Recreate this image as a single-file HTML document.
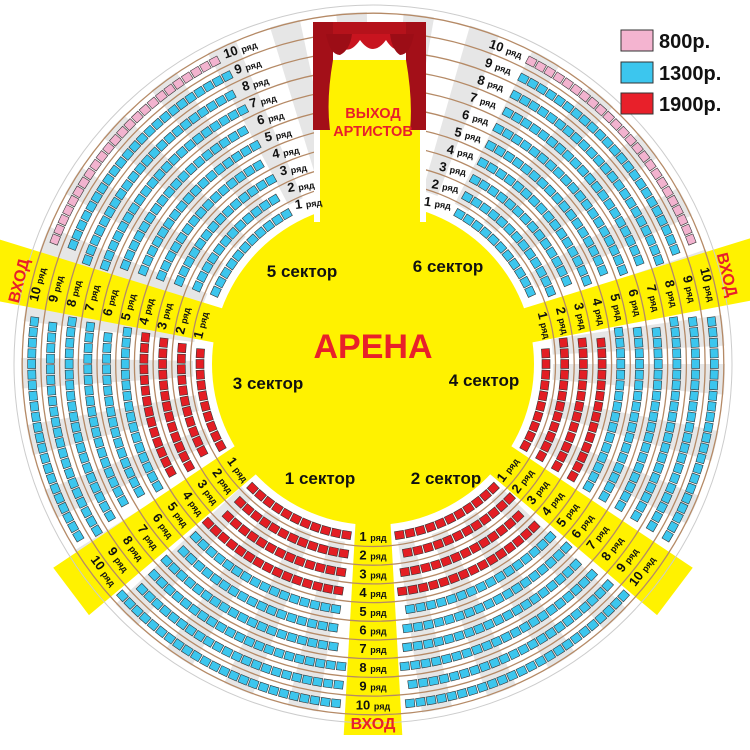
<!DOCTYPE html>
<html><head><meta charset="utf-8"><style>
html,body{margin:0;padding:0;background:#fff;}
svg{display:block;font-family:"Liberation Sans",sans-serif;}
.lb{font-weight:bold;fill:#111;}
</style></head><body>
<svg id="s" width="750" height="750" viewBox="0 0 750 750" xmlns="http://www.w3.org/2000/svg">
<rect width="750" height="750" fill="#fff"/>
<g id="wedges"></g>
<g id="aisles" fill="#fff200"></g>
<g id="rings" fill="none" stroke="#b58a66" stroke-width="1.3"></g>
<circle cx="373" cy="364" r="359" fill="none" stroke="#ccc" stroke-width="1"/>
<circle cx="373" cy="364" r="161" fill="#fff200"/>
<!-- stage -->
<rect x="314" y="22" width="112" height="200" fill="#fff"/>
<rect x="320" y="60" width="100" height="175" fill="#fff200"/>
<rect x="313" y="22" width="113" height="14" fill="#b5121b"/>
<path d="M313 22 L333 22 L333 60 Q326 100 330 130 L313 130 Z" fill="#a30f18"/>
<path d="M426 22 L406 22 L406 60 Q413 100 410 130 L426 130 Z" fill="#a30f18"/>
<path d="M330 34 Q345 62 360 40 Q373 58 386 40 Q400 62 412 34 Z" fill="#c8141f"/>
<path d="M326 34 Q330 55 340 55 Q350 50 352 34 Z M390 34 Q392 50 400 55 Q410 55 414 34Z" fill="#9c0d16"/>
<text x="373" y="118" text-anchor="middle" font-size="14.5" font-weight="bold" fill="#e8202a">ВЫХОД</text>
<text x="373" y="136" text-anchor="middle" font-size="14.5" font-weight="bold" fill="#e8202a">АРТИСТОВ</text>
<g id="seats" stroke="#333" stroke-width="0.6"></g>
<g id="labels"></g>
<text x="373" y="358" text-anchor="middle" font-size="34" font-weight="bold" fill="#e8202a">АРЕНА</text>
<g font-size="17" font-weight="bold" fill="#111" text-anchor="middle">
<text x="302" y="277">5 сектор</text>
<text x="448" y="272">6 сектор</text>
<text x="268" y="389">3 сектор</text>
<text x="484" y="386">4 сектор</text>
<text x="320" y="484">1 сектор</text>
<text x="446" y="484">2 сектор</text>
</g>
<g font-size="16" font-weight="bold" fill="#e8202a" text-anchor="middle">
<text x="373" y="729">ВХОД</text>
<text transform="translate(24,282) rotate(-76)">ВХОД</text>
<text transform="translate(722,276) rotate(76)">ВХОД</text>
</g>
<!-- legend -->
<rect x="621" y="30" width="32" height="21" fill="#f4b4d0" stroke="#333" stroke-width="1"/>
<rect x="621" y="62" width="32" height="21" fill="#3cc6ee" stroke="#333" stroke-width="1"/>
<rect x="621" y="93" width="32" height="21" fill="#e8202a" stroke="#333" stroke-width="1"/>
<g font-size="20" font-weight="bold" fill="#111">
<text x="659" y="48">800р.</text>
<text x="659" y="80">1300р.</text>
<text x="659" y="111">1900р.</text>
</g>
</svg>
<script>
(function(){
var NS="http://www.w3.org/2000/svg",cx=373,cy=364;
function el(p,t,a,txt){var e=document.createElementNS(NS,t);for(var k in a)e.setAttribute(k,a[k]);if(txt!=null)e.textContent=txt;document.getElementById(p).appendChild(e);return e;}
var R=[];for(var k=1;k<=10;k++)R.push(173+18.7*(k-1));
// gray wedges
for(var a=0;a<360;a+=11){var a1=a*Math.PI/180,a2=(a+5)*Math.PI/180,r1=180,r2=352;
el("wedges","path",{d:"M"+(cx+r1*Math.cos(a1))+" "+(cy+r1*Math.sin(a1))+" L"+(cx+r2*Math.cos(a1))+" "+(cy+r2*Math.sin(a1))+" A"+r2+" "+r2+" 0 0 1 "+(cx+r2*Math.cos(a2))+" "+(cy+r2*Math.sin(a2))+" L"+(cx+r1*Math.cos(a2))+" "+(cy+r1*Math.sin(a2))+" A"+r1+" "+r1+" 0 0 0 "+(cx+r1*Math.cos(a1))+" "+(cy+r1*Math.sin(a1))+"Z",fill:"#e6e6e6"});}
var aisles=[[90,371],[37,378],[143,378],[194,400],[346,400]];
function hw(r){return 17+(r-150)*15/270;}
aisles.forEach(function(A){var a=A[0]*Math.PI/180,u=[Math.cos(a),Math.sin(a)],p=[-u[1],u[0]],L=A[1];
var pts=[[150,-hw(150)],[L,-hw(L)],[L,hw(L)],[150,hw(150)]].map(function(q){return (cx+u[0]*q[0]+p[0]*q[1])+","+(cy+u[1]*q[0]+p[1]*q[1]);});
el("aisles","polygon",{points:pts.join(" ")});});
R.forEach(function(r){el("rings","circle",{cx:cx,cy:cy,r:r+9.5});});
function topLX(k){return 64+(k-1)*7.5;}
// seats
R.forEach(function(r,i){var k=i+1,n=Math.floor(2*Math.PI*r/10.6);
for(var j=0;j<n;j++){var t=2*Math.PI*j/n,x=cx+r*Math.cos(t),y=cy+r*Math.sin(t),skip=false;
aisles.forEach(function(A){var a=A[0]*Math.PI/180,ux=Math.cos(a),uy=Math.sin(a),dx=x-cx,dy=y-cy;
var along=dx*ux+dy*uy,perp=Math.abs(-dx*uy+dy*ux);if(along>0&&perp<hw(r)+6)skip=true;});
if(y<cy&&Math.abs(x-cx)<topLX(k)+20)skip=true;
if(skip)continue;var deg=(t*180/Math.PI+360)%360,top=deg>194&&deg<346;
var col=top?(k==10?"#f2b3cf":"#3cc6ee"):(k<=4?"#e31e24":"#3cc6ee");
el("seats","rect",{x:x-4.5,y:y-4,width:9,height:8,fill:col,transform:"rotate("+(deg+90)+" "+x+" "+y+")"});}});
// labels
function lab(x,y,rot,k){var g=el("labels","text",{transform:"translate("+x+","+y+") rotate("+rot+")","text-anchor":"middle","class":"lb","font-size":"13"});
var t1=document.createElementNS(NS,"tspan");t1.textContent=k+" ";g.appendChild(t1);
var t2=document.createElementNS(NS,"tspan");t2.setAttribute("font-size","9");t2.textContent="ряд";g.appendChild(t2);}
var rots={90:0,37:-53,143:53,194:-76,346:76};
aisles.forEach(function(A){var a=A[0]*Math.PI/180;R.forEach(function(r,i){lab(cx+r*Math.cos(a)+4*Math.sin(a)*0,cy+r*Math.sin(a)+4,rots[A[0]],i+1);});});
R.forEach(function(r,i){var k=i+1,dx=topLX(k),y=cy-Math.sqrt(r*r-dx*dx)+4;
lab(cx-dx,y,-8-i*1.2,k);lab(cx+dx,y,8+i*1.2,k);});
})();
</script>
</body></html>
